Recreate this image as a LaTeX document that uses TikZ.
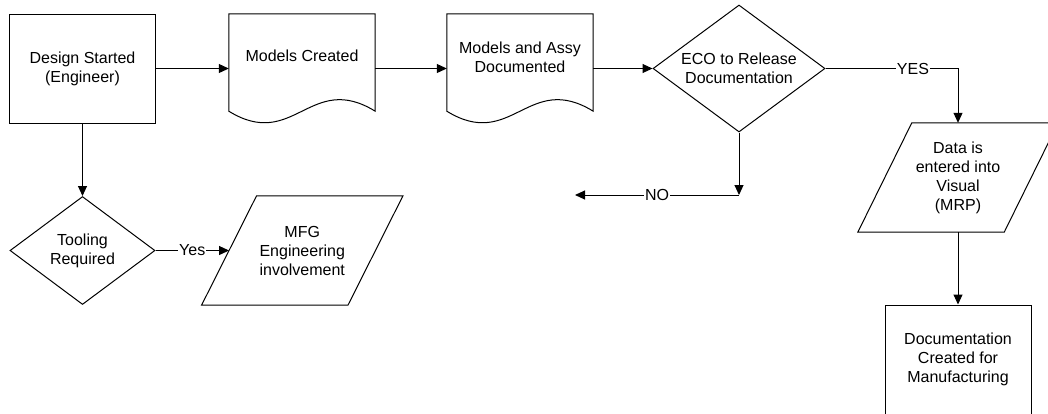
\documentclass[tikz,border=0pt]{standalone}
\usepackage{fontspec}
\setmainfont{Liberation Sans}
\usetikzlibrary{shapes.geometric,arrows.meta,calc}
\begin{document}
\begin{tikzpicture}[x=1pt,y=-1pt,
  every node/.style={font=\fontsize{16}{19}\selectfont, align=center, inner sep=0pt},
  docline/.style={line width=1pt, line join=miter},
  arr/.style={line width=1pt, -{Triangle[length=10pt,width=9pt]}},
  box/.style={draw, line width=1pt, rectangle, minimum width=146pt, minimum height=109pt},
  area/.style={rectangle, draw=none, minimum width=146pt, minimum height=109pt},
  lbl/.style={fill=white, inner sep=1pt},
  decision/.style={draw, line width=1pt, diamond}
]
\useasboundingbox (0,0) rectangle (1048,413);
\clip (0,0) rectangle (1048,413);

% Design Started
\node[box] (ds) at (82.5,68.5) {Design Started\\(Engineer)};

% Models Created (document)
\node[area] (mc) at (302,68.5) {};
\draw[docline] (mc.north west) -- (mc.north east) -- ([yshift=12pt]mc.south east)
  .. controls ([xshift=-65pt,yshift=52pt]mc.south east) and ([xshift=65pt,yshift=-28pt]mc.south west) ..
  ([yshift=12pt]mc.south west) -- cycle;
\node (mct) at ([yshift=12.5pt]mc.center) {Models Created};

% Models and Assy Documented (document)
\node[area] (ma) at (520,68.5) {};
\draw[docline] (ma.north west) -- (ma.north east) -- ([yshift=12pt]ma.south east)
  .. controls ([xshift=-65pt,yshift=52pt]ma.south east) and ([xshift=65pt,yshift=-28pt]ma.south west) ..
  ([yshift=12pt]ma.south west) -- cycle;
\node (mat) at ([yshift=11.5pt]ma.center) {Models and Assy\\Documented};

% ECO decision
\node[decision, minimum width=172pt, minimum height=127pt, aspect=1.354] (eco) at (739,68.5) {ECO to Release\\Documentation};

% Data entered (parallelogram)
\node[area] (data) at (958,177.5) {Data is\\entered into\\Visual\\(MRP)};
\draw[docline] ([xshift=27pt]data.north west) -- ([xshift=27pt]data.north east)
  -- ([xshift=-27pt]data.south east) -- ([xshift=-27pt]data.south west) -- cycle;

% Documentation Created
\node[box] (dc) at (958,359.5) {Documentation\\Created for\\Manufacturing};

% Tooling decision
\node[decision, minimum width=145pt, minimum height=108pt, aspect=1.34] (tool) at (82.5,250.5) {Tooling\\Required};

% MFG Engineering (parallelogram)
\node[area] (mfg) at (302.25,250.5) {MFG\\Engineering\\involvement};
\draw[docline] ([xshift=27.5pt]mfg.north west) -- ([xshift=27.5pt]mfg.north east)
  -- ([xshift=-27.5pt]mfg.south east) -- ([xshift=-27.5pt]mfg.south west) -- cycle;

\coordinate (nocorner) at (739,195);
\coordinate (noend) at (575,195);

% connectors
\draw[arr] (ds) -- (mc);
\draw[arr] (mc) -- (ma);
\draw[arr] (ma) -- (eco);
\draw[arr] (eco) -| node[lbl, pos=0.33] {YES} (data);
\draw[arr] (data) -- (dc);
\draw[arr] (ds) -- (tool);
\draw[arr] (tool) -- node[lbl] {Yes} (mfg);
\draw[arr] (eco) -- (nocorner);
\draw[arr] (nocorner) -- node[lbl] {NO} (noend);
\end{tikzpicture}
\end{document}
